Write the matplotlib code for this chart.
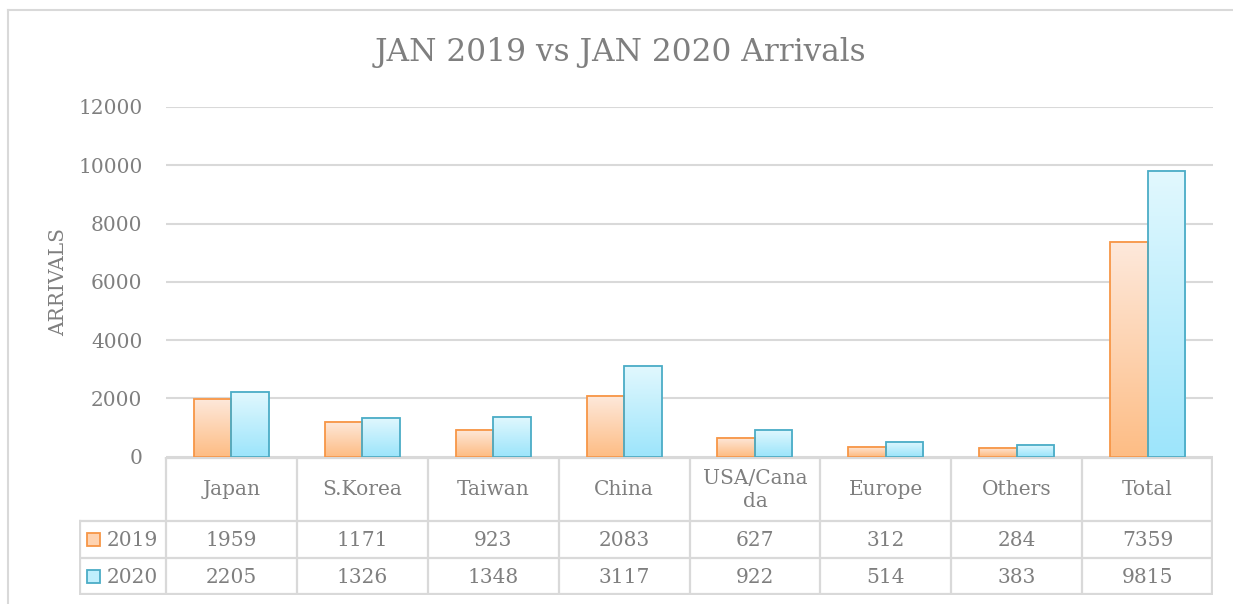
import numpy as np
import matplotlib
matplotlib.use("Agg")
import matplotlib.pyplot as plt
from matplotlib.colors import LinearSegmentedColormap
from matplotlib.lines import Line2D
from matplotlib.patches import Rectangle

# === data ===
categories = ["Japan", "S.Korea", "Taiwan", "China", "USA/Cana\nda", "Europe", "Others", "Total"]
series_names = ["2019", "2020"]
arrivals_2019 = [1959, 1171, 923, 2083, 627, 312, 284, 7359]
arrivals_2020 = [2205, 1326, 1348, 3117, 922, 514, 383, 9815]
y_ticks = [0, 2000, 4000, 6000, 8000, 10000, 12000]

# === style ===
plt.rcParams['font.family'] = ['DejaVu Serif']
TXT = "#7f7f7f"
GRID = "#d9d9d9"
W, H = 1233, 604

orange_cmap = LinearSegmentedColormap.from_list("o", ["#fdbd85", "#fee9dc"])
blue_cmap = LinearSegmentedColormap.from_list("b", ["#9de5fb", "#e2f8fe"])
orange_edge = "#f79646"
blue_edge = "#4bacc6"

fig = plt.figure(figsize=(W / 100, H / 100), dpi=100)

# outer chart frame
fig.add_artist(Line2D([8 / W, 8 / W], [0, 1 - 9.5 / H], color=GRID, lw=1.5, transform=fig.transFigure))
fig.add_artist(Line2D([8 / W, 1], [1 - 9.5 / H, 1 - 9.5 / H], color=GRID, lw=1.5, transform=fig.transFigure))

# main plot area (pixel positions)
left, right, top, bottom = 166, 1213, 107, 456.5
ax = fig.add_axes([left / W, 1 - bottom / H, (right - left) / W, (bottom - top) / H])

x = np.arange(len(categories))
bw = 0.287


def gradient_bars(xs, vals, cmap, edge):
    bars = ax.bar(xs, vals, bw, facecolor="none", edgecolor=edge, linewidth=1.3, zorder=3)
    grad = np.linspace(0, 1, 256).reshape(-1, 1)
    for b in bars:
        x0, h = b.get_x(), b.get_height()
        ax.imshow(grad, extent=[x0, x0 + b.get_width(), 0, h], origin="lower",
                  cmap=cmap, aspect="auto", zorder=2)
    return bars


gradient_bars(x - bw / 2, arrivals_2019, orange_cmap, orange_edge)
gradient_bars(x + bw / 2, arrivals_2020, blue_cmap, blue_edge)

ax.set_xlim(-0.5, len(categories) - 0.5)
ax.set_ylim(0, 12000)
ax.set_yticks(y_ticks)
ax.set_yticklabels([str(t) for t in y_ticks])
ax.set_xticks([])
ax.yaxis.grid(True, color=GRID, linewidth=1.5, zorder=0)
ax.set_axisbelow(True)
for s in ax.spines.values():
    s.set_visible(False)
ax.tick_params(axis="y", length=0, pad=17, labelsize=14.5, labelcolor=TXT)
ax.set_ylabel("ARRIVALS", fontsize=14.5, color=TXT, labelpad=7)

fig.text(620 / W, 1 - 53 / H, "JAN 2019 vs JAN 2020 Arrivals", ha="center", va="center",
         fontsize=22.5, color=TXT)

# === data table below the plot ===
t_left, t_top, t_bot = 79, 457, 595
tab = fig.add_axes([t_left / W, 1 - t_bot / H, (right - t_left) / W, (t_bot - t_top) / H])
unit = (right - left) / len(categories)
xl = -0.5 - (left - t_left) / unit
tab.set_xlim(xl, len(categories) - 0.5)
tab.set_ylim(t_bot - t_top, 0)
tab.axis("off")

r1, r2, r3 = 63.7, 100.7, 138
lkw = dict(color=GRID, lw=1.6, solid_capstyle="projecting")
tab.plot([-0.5, len(categories) - 0.5], [0.8, 0.8], **lkw)
for yy in (r1, r2, r3 - 0.8):
    tab.plot([xl + 0.005, len(categories) - 0.5], [yy, yy], **lkw)
for k in range(len(categories) + 1):
    xx = -0.5 + k
    if k == len(categories):
        xx -= 0.005
    tab.plot([xx, xx], [0, r3], **lkw)
tab.plot([xl + 0.005, xl + 0.005], [r1, r3], **lkw)

for i, c in enumerate(categories):
    tab.text(i, r1 / 2 + 1, c, ha="center", va="center", fontsize=14.5, color=TXT, linespacing=1.25)
    tab.text(i, (r1 + r2) / 2 + 1, str(arrivals_2019[i]), ha="center", va="center", fontsize=14.5, color=TXT)
    tab.text(i, (r2 + r3) / 2 + 1, str(arrivals_2020[i]), ha="center", va="center", fontsize=14.5, color=TXT)

sq = 14 / unit
for (yc, name, cmap, edge) in [((r1 + r2) / 2, series_names[0], orange_cmap, orange_edge),
                               ((r2 + r3) / 2, series_names[1], blue_cmap, blue_edge)]:
    x0 = xl + 7.5 / unit
    tab.add_patch(Rectangle((x0, yc - 6.5), sq, 13, facecolor=cmap(0.5), edgecolor=edge, lw=1.3))
    tab.text(x0 + 20 / unit, yc + 1, name, ha="left", va="center", fontsize=14.5, color=TXT)

fig.savefig("out.png", dpi=100)
